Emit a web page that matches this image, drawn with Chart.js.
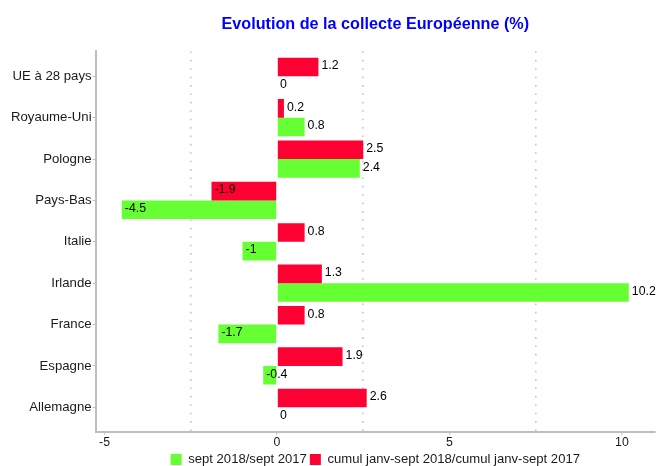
<!DOCTYPE html>
<html>
<head>
<meta charset="utf-8">
<script src="https://cdn.jsdelivr.net/npm/chart.js@4/dist/chart.umd.min.js"></script>
<style>
  html, body { margin: 0; padding: 0; background: #fff; }
  #wrap { width: 659px; height: 466px; }
</style>
</head>
<body>
<div id="wrap"><canvas id="collecteChart" width="659" height="466"></canvas></div>
<script>
// Data (top to bottom as in the picture)
const pays = ['UE à 28 pays', 'Royaume-Uni', 'Pologne', 'Pays-Bas', 'Italie', 'Irlande', 'France', 'Espagne', 'Allemagne'];
const cumul = [1.2, 0.2, 2.5, -1.9, 0.8, 1.3, 0.8, 1.9, 2.6];
const sept = [0, 0.8, 2.4, -4.5, -1, 10.2, -1.7, -0.4, 0];
const xTicks = [-5, -2.5, 0, 2.5, 5, 7.5, 10];

const RED = '#ff0033';
const GREEN = '#66ff33';
const AXIS_GREY = '#bebebe';
const FONT = '"Liberation Sans", Arial, sans-serif';

// value labels next to the bar end, left aligned
const valueLabels = {
  id: 'valueLabels',
  afterDatasetsDraw(chart) {
    const ctx = chart.ctx;
    ctx.save();
    ctx.font = '12.3px ' + FONT;
    ctx.fillStyle = '#000';
    ctx.textAlign = 'left';
    ctx.textBaseline = 'middle';
    chart.data.datasets.forEach((ds, i) => {
      const meta = chart.getDatasetMeta(i);
      meta.data.forEach((bar, j) => {
        ctx.fillText(String(ds.data[j].x), bar.x + 3, bar.y - 1);
      });
    });
    ctx.restore();
  }
};

const ctx = document.getElementById('collecteChart').getContext('2d');
const collecteChart = new Chart(ctx, {
  type: 'bar',
  data: {
    datasets: [
      {
        label: 'cumul janv-sept 2018/cumul janv-sept 2017',
        data: cumul.map((v, i) => ({ x: v, y: i })),
        backgroundColor: RED,
        borderWidth: 0,
        categoryPercentage: 0.9,
        barPercentage: 1.0,
      },
      {
        label: 'sept 2018/sept 2017',
        data: sept.map((v, i) => ({ x: v, y: i })),
        backgroundColor: GREEN,
        borderWidth: 0,
        categoryPercentage: 0.9,
        barPercentage: 1.0,
      }
    ]
  },
  options: {
    indexAxis: 'y',
    responsive: false,
    animation: false,
    layout: {
      padding: { left: 10, right: 4, bottom: -10 }
    },
    scales: {
      x: {
        type: 'linear',
        min: -5.26,
        max: 10.96,
        afterBuildTicks: (scale) => {
          scale.ticks = xTicks.map(v => ({ value: v }));
        },
        grid: {
          color: (c) => (c.tick && Math.abs(c.tick.value % 5) === 2.5) ? '#c4c4c4' : 'rgba(0,0,0,0)',
          lineWidth: 1.6,
          tickColor: (c) => (c.tick && c.tick.value % 5 === 0) ? AXIS_GREY : 'rgba(0,0,0,0)',
          tickBorderDash: [],
          tickLength: 3,
          tickWidth: 1,
        },
        border: { color: AXIS_GREY, width: 2, dash: [1.6, 6.8] },
        ticks: {
          padding: 0,
          color: '#1a1a1a',
          font: { family: FONT, size: 12.3 },
          callback: (v) => (v % 5 === 0 ? String(v) : ''),
          maxRotation: 0,
        }
      },
      y: {
        type: 'linear',
        reverse: true,
        offset: false,
        min: -0.6,
        max: 8.6,
        afterBuildTicks: (scale) => {
          scale.ticks = pays.map((p, i) => ({ value: i }));
        },
        grid: {
          offset: false,
          drawOnChartArea: false,
          tickColor: AXIS_GREY,
          tickLength: 3,
        },
        border: { color: AXIS_GREY, width: 2 },
        ticks: {
          padding: 1,
          color: '#1a1a1a',
          font: { family: FONT, size: 13.2 },
          callback: (v) => pays[v],
        }
      }
    },
    plugins: {
      title: {
        display: true,
        fullSize: false,
        text: 'Evolution de la collecte Européenne (%)',
        color: '#0000ff',
        font: { family: FONT, size: 16.2, weight: 'bold' },
        padding: { top: 15, bottom: 17 }
      },
      legend: {
        position: 'bottom',
        fullSize: false,
        labels: {
          boxWidth: 11,
          boxHeight: 11,
          padding: 3,
          color: '#1a1a1a',
          font: { family: FONT, size: 13.1 },
          sort: (a, b) => b.datasetIndex - a.datasetIndex,
        }
      },
      tooltip: { enabled: false }
    }
  },
  plugins: [valueLabels]
});
</script>
</body>
</html>
